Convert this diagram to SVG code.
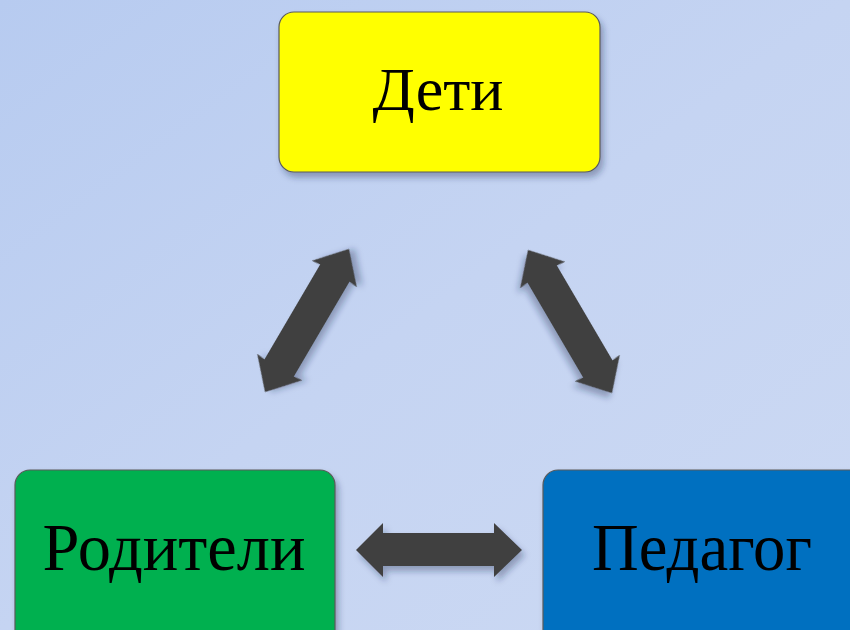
<svg xmlns="http://www.w3.org/2000/svg" width="850" height="630" viewBox="0 0 850 630">
<defs>
<linearGradient id="bg" x1="0" y1="0" x2="1" y2="1">
<stop offset="0" stop-color="#b7cbf0"/>
<stop offset="0.5" stop-color="#c5d4f2"/>
<stop offset="1" stop-color="#ccd9f3"/>
</linearGradient>
<filter id="sh" x="-20%" y="-20%" width="150%" height="150%">
<feDropShadow dx="3" dy="5" stdDeviation="3" flood-color="#1a2a50" flood-opacity="0.35"/>
</filter>
<path id="dbl" d="M-83,0 L-54,-26 L-55,-17 L55,-17 L54,-26 L83,0 L54,26 L55,17 L-55,17 L-54,26 Z"/>
</defs>
<style>
.box{stroke:#5a5a5a;stroke-width:1.2;filter:url(#sh)}
.lbl{font-family:"Liberation Serif","DejaVu Serif",serif;fill:#000;text-anchor:middle}
.arr{fill:#404040;filter:url(#sh)}
</style>
<rect width="850" height="630" fill="url(#bg)"/>
<g id="node-deti">
<rect class="box" x="279" y="12" width="321" height="160" rx="15" fill="#ffff00"/>
<text class="lbl" x="438" y="110" font-size="62">Дети</text>
</g>
<g id="node-roditeli">
<rect class="box" x="15" y="470" width="320" height="180" rx="15" fill="#00b050"/>
<text class="lbl" x="174" y="570" font-size="68" textLength="263" lengthAdjust="spacingAndGlyphs">Родители</text>
</g>
<g id="node-pedagog">
<rect class="box" x="543" y="470" width="330" height="180" rx="15" fill="#0070c0"/>
<text class="lbl" x="702" y="570" font-size="68" textLength="220" lengthAdjust="spacingAndGlyphs">Педагог</text>
</g>
<g id="connectors">
<use class="arr" href="#dbl" transform="translate(307,320.5) rotate(-59.6)"/>
<use class="arr" href="#dbl" transform="translate(570,321.5) rotate(59.6)"/>
<path class="arr" d="M356,550 L383,523 L383,533 L494,533 L494,523 L522,550 L494,577 L494,566 L383,566 L383,577 Z"/>
</g>
</svg>
